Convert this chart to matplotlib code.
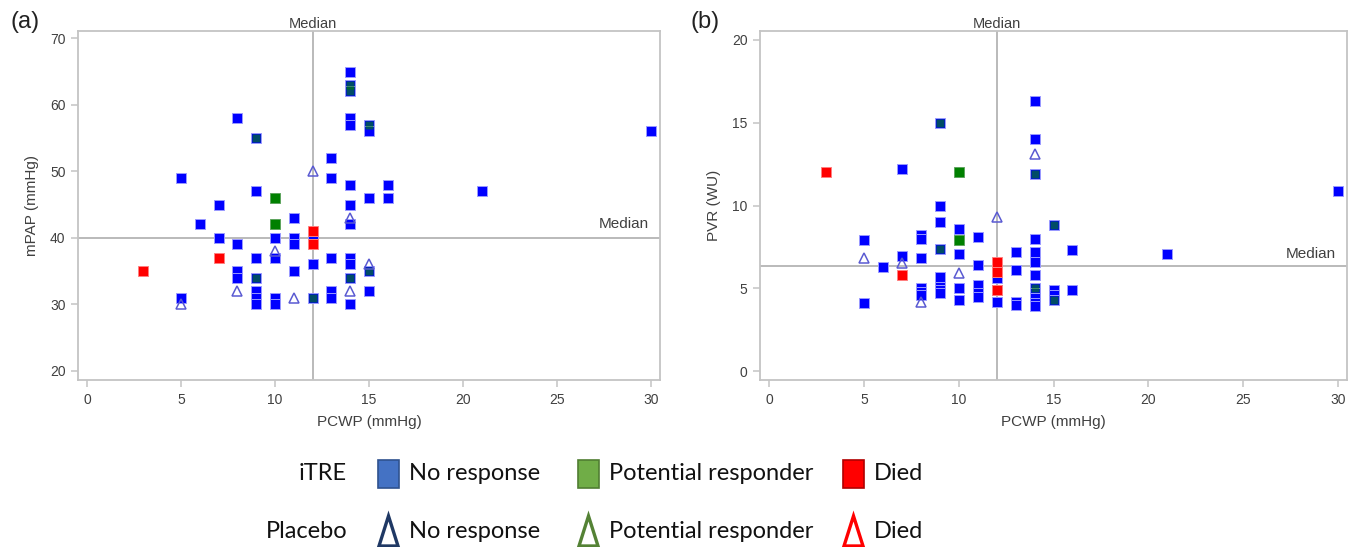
import matplotlib.pyplot as plt
import numpy as np
from matplotlib.patches import Rectangle, Polygon

plt.rcParams["font.family"] = ["Liberation Sans Narrow", "Liberation Sans", "DejaVu Sans"]

# ---- panel (a): PCWP vs mPAP -------------------------------------------
a_nr_x = [5, 5, 6, 7, 7, 8, 8, 8, 8, 9, 9, 9, 9, 9, 9, 9, 10, 10, 10, 10,
          11, 11, 11, 11, 12, 12, 12, 13, 13, 13, 13, 13, 14, 14, 14, 14, 14,
          14, 14, 14, 14, 14, 14, 14, 15, 15, 15, 15, 15, 16, 16, 21, 30]
a_nr_y = [49, 31, 42, 45, 40, 58, 39, 35, 34, 55, 47, 37, 34, 32, 31, 30, 40,
          37, 31, 30, 43, 40, 39, 35, 40, 36, 31, 52, 49, 37, 32, 31, 65, 63,
          62, 58, 57, 48, 45, 42, 37, 36, 34, 30, 57, 56, 46, 35, 32, 48, 46,
          47, 56]
a_pr_x = [9, 9, 10, 10, 12, 14, 14, 14, 15, 15]
a_pr_y = [55, 34, 46, 42, 31, 63, 62, 34, 57, 35]
a_died_x = [3, 7, 12, 12]
a_died_y = [35, 37, 41, 39]
a_pl_x = [5, 8, 10, 11, 12, 14, 14, 15]
a_pl_y = [30, 32, 38, 31, 50, 43, 32, 36]
a_median_x, a_median_y = 12, 40

# ---- panel (b): PCWP vs PVR --------------------------------------------
b_nr_x = [5, 5, 6, 7, 7, 8, 8, 8, 8, 8, 8, 9, 9, 9, 9, 9, 9, 9, 9, 10, 10,
          10, 10, 11, 11, 11, 11, 11, 12, 12, 12, 13, 13, 13, 13, 14, 14, 14,
          14, 14, 14, 14, 14, 14, 14, 14, 14, 15, 15, 15, 15, 16, 16, 21, 30]
b_nr_y = [7.9, 4.1, 6.3, 12.2, 6.95, 8.2, 8.0, 6.8, 5.0, 4.8, 4.6, 15.0,
          10.0, 9.0, 7.4, 5.7, 5.1, 4.9, 4.7, 8.6, 7.1, 5.0, 4.3, 8.1, 6.4,
          5.2, 4.7, 4.5, 5.6, 4.9, 4.2, 7.2, 6.1, 4.2, 4.0, 16.3, 14.0, 11.9,
          8.0, 7.2, 6.6, 5.8, 5.0, 4.7, 4.4, 4.1, 3.9, 8.8, 4.9, 4.6, 4.3,
          7.3, 4.9, 7.1, 10.9]
b_pr_x = [9, 9, 10, 10, 12, 14, 14, 15, 15]
b_pr_y = [15.0, 7.4, 12.0, 7.9, 4.9, 11.9, 5.0, 8.8, 4.3]
b_died_x = [3, 7, 12, 12, 12]
b_died_y = [12.0, 5.8, 6.6, 6.0, 4.9]
b_pl_x = [5, 7, 8, 10, 12, 14]
b_pl_y = [6.8, 6.5, 4.2, 5.9, 9.3, 13.1]
b_median_x, b_median_y = 12, 6.35

x_ticks = [0, 5, 10, 15, 20, 25, 30]
a_yticks = [20, 30, 40, 50, 60, 70]
b_yticks = [0, 5, 10, 15, 20]

W, H = 1357, 547
fig = plt.figure(figsize=(W / 100, H / 100), dpi=100)

FRAME = "#c4c4c4"
TXT = "#404040"


def draw_panel(ax, nr, pr, died, pl, med, yticks, ylim, ylabel, med_y_lab):
    ax.set_xlim(-0.48, 30.48)
    ax.set_ylim(*ylim)
    ax.axvline(med[0], color="#b4b4b4", lw=1.3, zorder=1)
    ax.axhline(med[1], color="#b4b4b4", lw=1.3, zorder=1)
    nx, ny = np.array(nr[0]), np.array(nr[1])
    ax.plot(nx, ny, "s", ms=7.2, mfc="#0000ff", mec="#9a9aff", mew=0.7,
            ls="none", zorder=3)
    px, py = np.array(pr[0]), np.array(pr[1])
    over = np.array([np.any((nx == a) & (np.isclose(ny, b))) for a, b in zip(px, py)])
    ax.plot(px[~over], py[~over], "s", ms=7.2, mfc="#008000", mec="#5fa55f",
            mew=0.7, ls="none", zorder=4)
    ax.plot(px[over], py[over], "s", ms=6.3, mfc="#008000", mec="none",
            alpha=0.6, ls="none", zorder=4)
    ax.plot(died[0], died[1], "s", ms=7.2, mfc="#ff0000", mec="#ff8080",
            mew=0.7, ls="none", zorder=5)
    ax.plot(pl[0], pl[1], "^", ms=6.5, mfc="none", mec="#5a5ad2", mew=1.1,
            ls="none", zorder=6)

    for sp in ax.spines.values():
        sp.set_color(FRAME)
        sp.set_linewidth(1.3)
    ax.set_xticks(x_ticks)
    ax.set_yticks(yticks)
    ax.tick_params(colors=FRAME, labelcolor=TXT, labelsize=10, length=5,
                   width=1.1, pad=4)
    ax.set_xlabel("PCWP (mmHg)", color=TXT, fontsize=11, labelpad=6)
    ax.set_ylabel(ylabel, color=TXT, fontsize=11, labelpad=8)
    ax.text(med[0], ylim[1], "Median", ha="center", va="bottom", color=TXT,
            fontsize=10.5, transform=ax.transData)
    ax.text(29.9, med_y_lab, "Median", ha="right", va="bottom", color=TXT,
            fontsize=11)


ax1 = fig.add_axes([78 / W, 1 - 380 / H, (660 - 78) / W, (380 - 31) / H])
draw_panel(ax1, (a_nr_x, a_nr_y), (a_pr_x, a_pr_y), (a_died_x, a_died_y),
           (a_pl_x, a_pl_y), (a_median_x, a_median_y), a_yticks,
           (18.6, 71.1), "mPAP (mmHg)", a_median_y + 1.0)

ax2 = fig.add_axes([760 / W, 1 - 380 / H, (1347 - 760) / W, (380 - 31) / H])
draw_panel(ax2, (b_nr_x, b_nr_y), (b_pr_x, b_pr_y), (b_died_x, b_died_y),
           (b_pl_x, b_pl_y), (b_median_x, b_median_y), b_yticks,
           (-0.54, 20.54), "PVR (WU)", b_median_y + 0.3)

fig.text(10 / W, 1 - 22 / H, "(a)", fontsize=17, va="center", ha="left",
         family=["Liberation Sans", "DejaVu Sans"], color="#222")
fig.text(690 / W, 1 - 22 / H, "(b)", fontsize=17, va="center", ha="left",
         family=["Liberation Sans", "DejaVu Sans"], color="#222")

# ---- legend (drawn in pixel space) --------------------------------------
lg = fig.add_axes([0, 0, 1, 1], zorder=-1)
lg.set_xlim(0, W)
lg.set_ylim(H, 0)
lg.axis("off")

leg_font = ["Lato", "DejaVu Sans"]
leg_labels = ["No response", "Potential responder", "Died"]
sq_fill = ["#4472c4", "#70ad47", "#ff0000"]
sq_edge = ["#2f528f", "#507e32", "#b00000"]
tri_edge = ["#1f3864", "#548235", "#ff0000"]
leg_x = [378, 578, 843]

lg.text(347, 474, "iTRE", ha="right", va="center", fontsize=17,
        family=leg_font, color="#111")
lg.text(347, 531, "Placebo", ha="right", va="center", fontsize=17,
        family=leg_font, color="#111")
for x0, lab, fc, ec, te in zip(leg_x, leg_labels, sq_fill, sq_edge, tri_edge):
    lg.add_patch(Rectangle((x0, 460), 21, 28, fc=fc, ec=ec, lw=1.2))
    lg.add_patch(Polygon([(x0 + 1, 546), (x0 + 10.5, 516), (x0 + 20, 546)],
                         closed=True, fill=False, ec=te, lw=2.4))
    lg.text(x0 + 31, 474, lab, ha="left", va="center", fontsize=17,
            family=leg_font, color="#111")
    lg.text(x0 + 31, 531, lab, ha="left", va="center", fontsize=17,
            family=leg_font, color="#111")

fig.savefig("out.png", dpi=100)
